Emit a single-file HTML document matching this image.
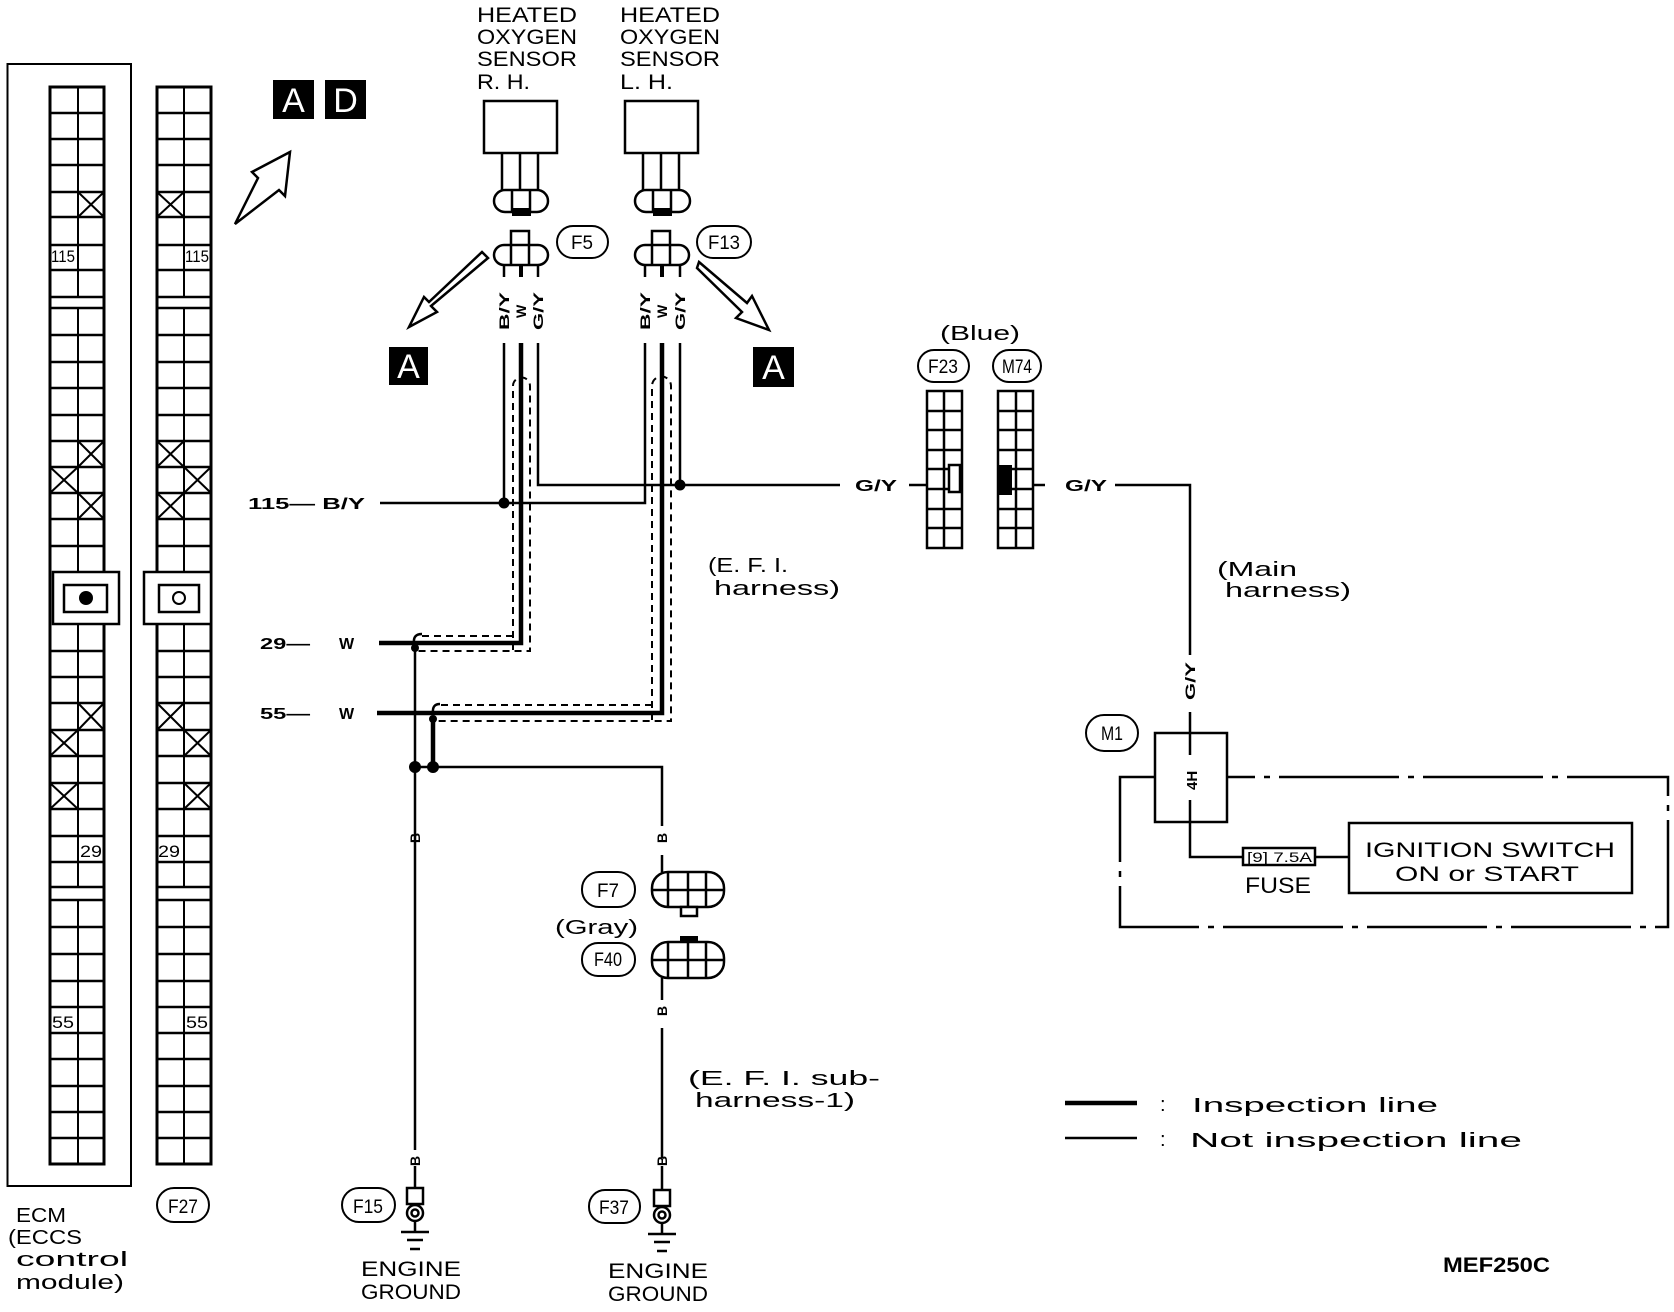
<!DOCTYPE html>
<html><head><meta charset="utf-8"><style>
html,body{margin:0;padding:0;background:#fff;}
svg{display:block;}
text{font-family:"Liberation Sans",sans-serif;fill:#000;}
</style></head><body>
<svg width="1674" height="1312" viewBox="0 0 1674 1312" xmlns="http://www.w3.org/2000/svg">
<rect width="1674" height="1312" fill="#fff"/>
<g stroke="#000" fill="none" stroke-width="2">
<!-- ECM outer box -->
<rect x="7.5" y="64" width="123.5" height="1122"/>
<!-- ECM grid -->
<g stroke-width="3">
<rect x="50" y="87" width="54" height="1077"/>
<rect x="157" y="87" width="54" height="1077"/>
</g>
<path d="M78 87V297M78 308V572M78 624V887M78 900V1164M184 87V297M184 308V572M184 624V887M184 900V1164"/>
<path stroke-width="2.5" d="
M50 113H104M50 139H104M50 165H104M50 192H104M50 217H104M50 245H104M50 270H104M50 297H104M50 308H104M50 335H104M50 362H104M50 388H104M50 415H104M50 441H104M50 467H104M50 493H104M50 519H104M50 546H104
M50 651H104M50 677H104M50 703H104M50 730H104M50 756H104M50 783H104M50 809H104M50 836H104M50 862H104M50 887H104M50 900H104M50 927H104M50 954H104M50 981H104M50 1007H104M50 1033H104M50 1059H104M50 1086H104M50 1112H104M50 1138H104
M157 113H211M157 139H211M157 165H211M157 192H211M157 217H211M157 245H211M157 270H211M157 297H211M157 308H211M157 335H211M157 362H211M157 388H211M157 415H211M157 441H211M157 467H211M157 493H211M157 519H211M157 546H211
M157 651H211M157 677H211M157 703H211M157 730H211M157 756H211M157 783H211M157 809H211M157 836H211M157 862H211M157 887H211M157 900H211M157 927H211M157 954H211M157 981H211M157 1007H211M157 1033H211M157 1059H211M157 1086H211M157 1112H211M157 1138H211"/>
<!-- crosses -->
<path d="M78 192L104 217M104 192L78 217 M78 441L104 467M104 441L78 467 M50 467L78 493M78 467L50 493 M78 493L104 519M104 493L78 519 M78 703L104 730M104 703L78 730 M50 730L78 756M78 730L50 756 M50 783L78 809M78 783L50 809
M157 192L184 217M184 192L157 217 M157 441L184 467M184 441L157 467 M184 467L211 493M211 467L184 493 M157 493L184 519M184 493L157 519 M157 703L184 730M184 703L157 730 M184 730L211 756M211 730L184 756 M184 783L211 809M211 783L184 809"/>
<!-- lock boxes -->
<rect x="53" y="572" width="66" height="52" fill="#fff" stroke-width="2.5"/>
<rect x="64" y="585" width="43" height="27" stroke-width="2.5"/>
<rect x="144" y="572" width="67" height="52" fill="#fff" stroke-width="2.5"/>
<rect x="159" y="585" width="40" height="27" stroke-width="2.5"/>
<circle cx="179" cy="598" r="6"/>
</g>
<circle cx="86" cy="598" r="7"/>
<g font-size="17">
<text x="51" y="262" textLength="24" lengthAdjust="spacingAndGlyphs">115</text>
<text x="185" y="262" textLength="24" lengthAdjust="spacingAndGlyphs">115</text>
<text x="80" y="857" textLength="22" lengthAdjust="spacingAndGlyphs">29</text>
<text x="158" y="857" textLength="22" lengthAdjust="spacingAndGlyphs">29</text>
<text x="52" y="1028" textLength="22" lengthAdjust="spacingAndGlyphs">55</text>
<text x="186" y="1028" textLength="22" lengthAdjust="spacingAndGlyphs">55</text>
</g>
<!-- ECM label -->
<g font-size="20">
<text x="16" y="1222" textLength="50" lengthAdjust="spacingAndGlyphs">ECM</text>
<text x="8" y="1244" textLength="74" lengthAdjust="spacingAndGlyphs">(ECCS</text>
<text x="16" y="1266" textLength="112" lengthAdjust="spacingAndGlyphs">control</text>
<text x="16" y="1289" textLength="108" lengthAdjust="spacingAndGlyphs">module)</text>
</g>
<!-- oval labels -->
<g stroke="#000" stroke-width="2" fill="none">
<rect x="157" y="1188" width="52" height="34" rx="17"/>
<rect x="342" y="1188" width="53" height="34" rx="17"/>
<rect x="589" y="1190" width="51" height="33" rx="16"/>
<rect x="557" y="226" width="51" height="32" rx="16"/>
<rect x="697" y="226" width="54" height="32" rx="16"/>
<rect x="918" y="350" width="51" height="32" rx="16"/>
<rect x="993" y="350" width="48" height="32" rx="16"/>
<rect x="582" y="872" width="53" height="35" rx="17"/>
<rect x="582" y="943" width="53" height="33" rx="16"/>
<rect x="1086" y="715" width="52" height="36" rx="18"/>
</g>
<g font-size="19" text-anchor="middle">
<text x="183" y="1213" textLength="30" lengthAdjust="spacingAndGlyphs">F27</text>
<text x="368" y="1213" textLength="30" lengthAdjust="spacingAndGlyphs">F15</text>
<text x="614" y="1214" textLength="30" lengthAdjust="spacingAndGlyphs">F37</text>
<text x="582" y="249" textLength="22" lengthAdjust="spacingAndGlyphs">F5</text>
<text x="724" y="249" textLength="32" lengthAdjust="spacingAndGlyphs">F13</text>
<text x="943" y="373" textLength="30" lengthAdjust="spacingAndGlyphs">F23</text>
<text x="1017" y="373" textLength="30" lengthAdjust="spacingAndGlyphs">M74</text>
<text x="608" y="897" textLength="22" lengthAdjust="spacingAndGlyphs">F7</text>
<text x="608" y="966" textLength="28" lengthAdjust="spacingAndGlyphs">F40</text>
<text x="1112" y="740" textLength="22" lengthAdjust="spacingAndGlyphs">M1</text>
</g>
<!-- AD boxes -->
<rect x="273" y="80" width="41" height="39" fill="#000"/>
<rect x="325" y="80" width="41" height="39" fill="#000"/>
<rect x="389" y="347" width="39" height="38" fill="#000"/>
<rect x="753" y="347" width="41" height="40" fill="#000"/>
<g font-size="34" style="fill:#fff" text-anchor="middle">
<text x="293.5" y="112" style="fill:#fff">A</text>
<text x="345.5" y="112" style="fill:#fff">D</text>
<text x="408.5" y="378" style="fill:#fff">A</text>
<text x="773.5" y="379" style="fill:#fff">A</text>
</g>
<!-- hollow arrows -->
<g stroke="#000" stroke-width="2.5" fill="#fff" stroke-linejoin="miter">
<path d="M235 224 L258 178 L252 172 L290 152 L285 196 L279 190 Z"/>
<path d="M488 258 L431 306 L437 312 L409 327 L424 297 L429 302 L482 252 Z"/>
<path d="M699 262 L747 303 L752 296 L769 330 L736 318 L742 312 L697 268 Z"/>
</g>
<!-- heated O2 sensor labels -->
<g font-size="21">
<text x="477" y="22" textLength="100" lengthAdjust="spacingAndGlyphs">HEATED</text>
<text x="477" y="44" textLength="100" lengthAdjust="spacingAndGlyphs">OXYGEN</text>
<text x="477" y="66" textLength="100" lengthAdjust="spacingAndGlyphs">SENSOR</text>
<text x="477" y="89" textLength="53" lengthAdjust="spacingAndGlyphs">R. H.</text>
<text x="620" y="22" textLength="100" lengthAdjust="spacingAndGlyphs">HEATED</text>
<text x="620" y="44" textLength="100" lengthAdjust="spacingAndGlyphs">OXYGEN</text>
<text x="620" y="66" textLength="100" lengthAdjust="spacingAndGlyphs">SENSOR</text>
<text x="620" y="89" textLength="53" lengthAdjust="spacingAndGlyphs">L. H.</text>
</g>
<!-- sensors -->
<g stroke="#000" stroke-width="2.5" fill="#fff">
<rect x="484" y="101" width="73" height="52"/>
<path d="M502 153V190M520 153V190M538 153V190" fill="none"/>
<rect x="494" y="190" width="54" height="22" rx="11"/>
<path d="M512 190V212M530 190V212" fill="none"/>
<rect x="625" y="101" width="73" height="52"/>
<path d="M643 153V190M661 153V190M679 153V190" fill="none"/>
<rect x="635" y="190" width="55" height="22" rx="11"/>
<path d="M653 190V212M671 190V212" fill="none"/>
<!-- connectors F5 F13 -->
<rect x="511" y="231" width="18" height="16"/>
<rect x="494" y="245" width="54" height="20" rx="10"/>
<path d="M511 245V265M529 245V265" fill="none"/>
<rect x="652" y="231" width="18" height="16"/>
<rect x="635" y="245" width="54" height="20" rx="10"/>
<path d="M652 245V265M670 245V265" fill="none"/>
</g>
<rect x="512" y="208" width="19" height="8" fill="#000"/>
<rect x="653" y="208" width="19" height="8" fill="#000"/>
<g stroke="#000" fill="none">
<path d="M504 265V277M538 265V277M645 265V277M680 265V277" stroke-width="2.5"/>
<path d="M521 265V277M662 265V277" stroke-width="4"/>
</g>
<!-- rotated wire labels -->
<g font-size="14" font-weight="bold">
<text transform="translate(509,330) rotate(-90)" textLength="38" lengthAdjust="spacingAndGlyphs">B/Y</text>
<text transform="translate(526,318) rotate(-90)">W</text>
<text transform="translate(543,330) rotate(-90)" textLength="38" lengthAdjust="spacingAndGlyphs">G/Y</text>
<text transform="translate(650,330) rotate(-90)" textLength="38" lengthAdjust="spacingAndGlyphs">B/Y</text>
<text transform="translate(667,318) rotate(-90)">W</text>
<text transform="translate(685,330) rotate(-90)" textLength="38" lengthAdjust="spacingAndGlyphs">G/Y</text>
<text transform="translate(1195,700) rotate(-90)" textLength="38" lengthAdjust="spacingAndGlyphs">G/Y</text>
<text transform="translate(420,843) rotate(-90)">B</text>
<text transform="translate(667,843) rotate(-90)">B</text>
<text transform="translate(667,1016) rotate(-90)">B</text>
<text transform="translate(420,1166) rotate(-90)">B</text>
<text transform="translate(667,1166) rotate(-90)">B</text>
</g>
<!-- wires -->
<g stroke="#000" fill="none" stroke-width="2.5">
<path d="M380 503H504V343"/>
<path d="M504 503H645V343"/>
<path d="M538 343V485H840"/>
<path d="M680 343V485"/>
<path d="M909 485H927"/>
<path d="M1033 485H1045"/>
<path d="M1115 485H1190V655M1190 712V755M1190 800V857H1243M1315 857H1349"/>
<path d="M415 648V1150"/>
<path d="M415 767H662V826M662 855V872M662 978V1000M662 1028V1158M662 1166V1190"/>
<path d="M415 1166V1188"/>
</g>
<g stroke="#000" fill="none" stroke-width="4.5">
<path d="M379 643H521V343"/>
<path d="M377 713H662V343"/>
<path d="M433 720V767"/>
</g>
<!-- shields -->
<g stroke="#000" fill="none" stroke-width="2" stroke-dasharray="7 5">
<path d="M513 650V386A8.5 8.5 0 0 1 530 386V651H415"/>
<path d="M513 636H418"/>
<path d="M652 720V386A9.5 9.5 0 0 1 671 386V721H435"/>
<path d="M652 705H436"/>
</g>
<g stroke="#000" fill="none" stroke-width="2.5">
<path d="M422 634Q413 634 414 643"/><path d="M440 704Q432 704 433 713"/>
</g>
<g fill="#000">
<circle cx="504" cy="503" r="5.5"/>
<circle cx="680" cy="485" r="5.5"/>
<circle cx="415" cy="767" r="6"/>
<circle cx="433" cy="767" r="6"/>
<circle cx="415" cy="648" r="4"/>
<circle cx="433" cy="719" r="4"/>
</g>
<!-- wire labels left -->
<g font-size="16" font-weight="bold">
<text x="248" y="509" textLength="117" lengthAdjust="spacingAndGlyphs">115— B/Y</text>
<text x="260" y="649" textLength="50" lengthAdjust="spacingAndGlyphs">29—</text>
<text x="339" y="649">W</text>
<text x="260" y="719" textLength="50" lengthAdjust="spacingAndGlyphs">55—</text>
<text x="339" y="719">W</text>
<text x="855" y="491" textLength="42" lengthAdjust="spacingAndGlyphs">G/Y</text>
<text x="1065" y="491" textLength="42" lengthAdjust="spacingAndGlyphs">G/Y</text>
</g>
<!-- F23 / M74 -->
<g stroke="#000" fill="none" stroke-width="2.5">
<rect x="927" y="391" width="35" height="157"/>
<rect x="998" y="391" width="35" height="157"/>
<path d="M944 391V548M1016 391V548 M927 411H962M927 430H962M927 450H962M927 469H962M927 489H962M927 509H962M927 528H962 M998 411H1033M998 430H1033M998 450H1033M998 469H1033M998 489H1033M998 509H1033M998 528H1033"/>
<rect x="949" y="465" width="11" height="27" fill="#fff"/>
</g>
<rect x="999" y="465" width="13" height="30" fill="#000"/>
<text x="940" y="340" font-size="20" textLength="80" lengthAdjust="spacingAndGlyphs">(Blue)</text>
<!-- harness labels -->
<g font-size="20">
<text x="708" y="572" textLength="80" lengthAdjust="spacingAndGlyphs">(E. F. I.</text>
<text x="714" y="595" textLength="126" lengthAdjust="spacingAndGlyphs">harness)</text>
<text x="1217" y="576" textLength="80" lengthAdjust="spacingAndGlyphs">(Main</text>
<text x="1225" y="597" textLength="126" lengthAdjust="spacingAndGlyphs">harness)</text>
<text x="688" y="1085" textLength="192" lengthAdjust="spacingAndGlyphs">(E. F. I.  sub-</text>
<text x="695" y="1107" textLength="160" lengthAdjust="spacingAndGlyphs">harness-1)</text>
<text x="555" y="934" textLength="83" lengthAdjust="spacingAndGlyphs">(Gray)</text>
</g>
<!-- F7 / F40 -->
<g stroke="#000" fill="#fff" stroke-width="2.5">
<rect x="652" y="872" width="72" height="35" rx="16"/>
<path d="M668 872V907M688 872V907M706 872V907M652 890H724" fill="none"/>
<rect x="681" y="907" width="16" height="9"/>
<rect x="652" y="942" width="72" height="36" rx="16"/>
<path d="M668 942V978M688 942V978M706 942V978M652 960H724" fill="none"/>
</g>
<rect x="680" y="936" width="18" height="7" fill="#000"/>
<!-- grounds -->
<g stroke="#000" fill="#fff" stroke-width="2.5">
<rect x="407" y="1188" width="16" height="16"/>
<circle cx="415" cy="1213" r="8"/><circle cx="415" cy="1213" r="3.5"/>
<path d="M415 1221V1232M401 1232H429M407 1240H423M410 1249H420" fill="none"/>
<rect x="654" y="1190" width="16" height="16"/>
<circle cx="662" cy="1215" r="8"/><circle cx="662" cy="1215" r="3.5"/>
<path d="M662 1223V1234M648 1234H676M654 1242H670M657 1251H667" fill="none"/>
</g>
<g font-size="21">
<text x="361" y="1276" textLength="100" lengthAdjust="spacingAndGlyphs">ENGINE</text>
<text x="361" y="1299" textLength="100" lengthAdjust="spacingAndGlyphs">GROUND</text>
<text x="608" y="1278" textLength="100" lengthAdjust="spacingAndGlyphs">ENGINE</text>
<text x="608" y="1301" textLength="100" lengthAdjust="spacingAndGlyphs">GROUND</text>
</g>
<!-- M1 / ignition -->
<g stroke="#000" fill="none" stroke-width="2.5">
<rect x="1155" y="733" width="72" height="89"/>
<path d="M1155 777H1120V927H1668V777H1227" stroke-dasharray="120 9 6 9"/>
<rect x="1243" y="848" width="72" height="17"/>
<rect x="1349" y="823" width="283" height="70"/>
</g>
<text transform="translate(1197,790) rotate(-90)" font-size="15" font-weight="bold">4H</text>
<text x="1247" y="862" font-size="14" textLength="65" lengthAdjust="spacingAndGlyphs">[9] 7.5A</text>
<text x="1245" y="893" font-size="22" textLength="66" lengthAdjust="spacingAndGlyphs">FUSE</text>
<text x="1365" y="857" font-size="21" textLength="250" lengthAdjust="spacingAndGlyphs">IGNITION SWITCH</text>
<text x="1395" y="881" font-size="21" textLength="184" lengthAdjust="spacingAndGlyphs">ON or START</text>
<!-- legend -->
<path d="M1065 1103H1137" stroke="#000" stroke-width="4.5"/>
<path d="M1065 1138H1137" stroke="#000" stroke-width="2.5"/>
<g font-size="20">
<text x="1160" y="1111">:</text>
<text x="1192" y="1112" textLength="246" lengthAdjust="spacingAndGlyphs">Inspection line</text>
<text x="1160" y="1146">:</text>
<text x="1190" y="1147" textLength="332" lengthAdjust="spacingAndGlyphs">Not inspection line</text>
</g>
<text x="1443" y="1272" font-size="21" font-weight="bold" textLength="107" lengthAdjust="spacingAndGlyphs">MEF250C</text>
</svg>
</body></html>
